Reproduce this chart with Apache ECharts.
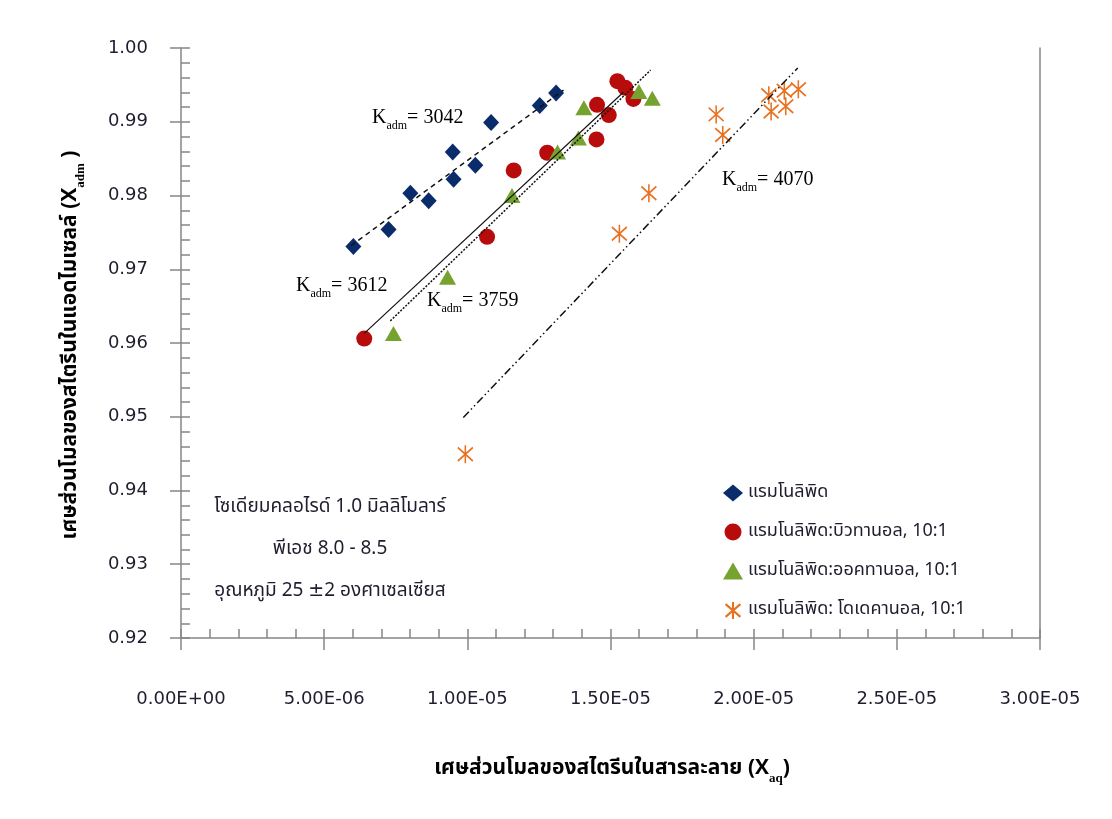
<!DOCTYPE html>
<html><head><meta charset="utf-8">
<script src="https://cdn.jsdelivr.net/npm/echarts@6/dist/echarts.min.js"></script>
<style>html,body{margin:0;padding:0;background:#fff}#c{width:1112px;height:819px}</style>
</head><body><div id="c"></div>
<script>
// ---- data ----
const seriesNames = ['แรมโนลิพิด', 'แรมโนลิพิด:บิวทานอล, 10:1', 'แรมโนลิพิด:ออคทานอล, 10:1', 'แรมโนลิพิด: โดเดคานอล, 10:1'];

const blueX = [6.02e-6, 7.25e-6, 8.01e-6, 8.65e-6, 9.49e-6, 9.52e-6, 10.28e-6, 10.83e-6, 12.53e-6, 13.10e-6];
const blueY = [0.9731, 0.9754, 0.9803, 0.9793, 0.9859, 0.9822, 0.9841, 0.9899, 0.9922, 0.9939];

const redX = [6.40e-6, 10.69e-6, 11.62e-6, 12.79e-6, 14.51e-6, 14.53e-6, 14.94e-6, 15.24e-6, 15.52e-6, 15.80e-6];
const redY = [0.9606, 0.9744, 0.9834, 0.9858, 0.9876, 0.9923, 0.9909, 0.9955, 0.9946, 0.9931];

const greenX = [7.42e-6, 9.31e-6, 11.56e-6, 13.15e-6, 13.88e-6, 14.07e-6, 15.99e-6, 16.46e-6];
const greenY = [0.9613, 0.9689, 0.9800, 0.9859, 0.9878, 0.9919, 0.9941, 0.9932];

const orangeX = [9.93e-6, 15.31e-6, 16.34e-6, 18.69e-6, 18.92e-6, 20.53e-6, 20.61e-6, 21.07e-6, 21.12e-6, 21.56e-6];
const orangeY = [0.9449, 0.9748, 0.9803, 0.9910, 0.9882, 0.9936, 0.9914, 0.9942, 0.9921, 0.9944];

// trend line end points
const blueFitX = [5.94e-6, 13.36e-6];   const blueFitY = [0.9732, 0.9943];
const redFitX = [6.40e-6, 15.45e-6];    const redFitY = [0.9613, 0.9940];
const greenFitX = [7.31e-6, 16.40e-6];  const greenFitY = [0.9630, 0.9970];
const orangeFitX = [9.86e-6, 21.54e-6]; const orangeFitY = [0.9499, 0.9973];

const kValues = ['3042', '3612', '3759', '4070'];
const noteLines = ['โซเดียมคลอไรด์ 1.0 มิลลิโมลาร์', 'พีเอช 8.0 - 8.5', 'อุณหภูมิ 25 ±2 องศาเซลเซียส'];
const xTitle = 'เศษส่วนโมลของสไตรีนในสารละลาย';
const yTitle = 'เศษส่วนโมลของสไตรีนในแอดไมเซลล์';

// ---- helpers ----
const zip = (xs, ys) => xs.map((x, i) => [x, ys[i]]);
function sci(v) {
  if (Math.abs(v) < 1e-15) return '0.00E+00';
  let e = Math.floor(Math.log10(Math.abs(v)) + 1e-9);
  let m = v / Math.pow(10, e);
  if (Math.abs(m) >= 9.995) { m /= 10; e += 1; }
  const sign = e < 0 ? '-' : '+';
  const ae = Math.abs(e);
  return m.toFixed(2) + 'E' + sign + (ae < 10 ? '0' : '') + ae;
}

const AX = '#868686';
const TXT = '#1e1e2e';
const thaiFont = '"Noto Sans Thai", "Tahoma", "DejaVu Sans", "Noto Sans", sans-serif';
const labelFont = '"DejaVu Sans", Verdana, sans-serif';
const serif = '"Liberation Serif", "Times New Roman", serif';
const starPath = 'path://M0,2L14,14M14,2L0,14M7,0L7,16';

const chart = echarts.init(document.getElementById('c'));

const gridPos = { left: 181, right: 72, top: 48, bottom: 181 };

function kRich() {
  return {
    k: { fontFamily: serif, fontSize: 20, lineHeight: 28, color: TXT },
    s: { fontFamily: serif, fontSize: 12, lineHeight: 12, verticalAlign: 'bottom', color: TXT },
    n: { fontFamily: serif, fontSize: 20, lineHeight: 28, color: TXT }
  };
}
function kText(val) { return '{k|K}{s|adm}{n|= ' + val + '}'; }

const option = {
  backgroundColor: '#fff',
  animation: false,
  grid: [
    Object.assign({}, gridPos),
    Object.assign({}, gridPos)
  ],
  xAxis: [
    {
      type: 'value', gridIndex: 0, min: 0, max: 3e-5, interval: 5e-6,
      axisLine: { show: true, lineStyle: { color: AX, width: 1.5 } },
      axisTick: { show: true, inside: false, length: 12, lineStyle: { color: AX, width: 1.5 } },
      axisLabel: { formatter: sci, fontFamily: labelFont, fontSize: 18, color: TXT, margin: 52 },
      splitLine: { show: false }
    },
    {
      type: 'value', gridIndex: 1, min: 0, max: 3e-5, interval: 5e-6,
      axisLine: { show: false },
      axisTick: { show: true, inside: true, length: 9, lineStyle: { color: AX, width: 1.5 } },
      minorTick: { show: true, splitNumber: 5, length: 9, lineStyle: { color: AX, width: 1.5 } },
      axisLabel: { show: false },
      splitLine: { show: false }
    }
  ],
  yAxis: [
    {
      type: 'value', gridIndex: 0, min: 0.92, max: 1.0, interval: 0.01, position: 'left',
      axisLine: { show: true, lineStyle: { color: AX, width: 1.5 } },
      axisTick: { show: true, inside: false, length: 11, lineStyle: { color: AX, width: 1.5 } },
      axisLabel: { formatter: v => v.toFixed(2), fontFamily: labelFont, fontSize: 18, color: TXT, margin: 33 },
      splitLine: { show: false }
    },
    {
      type: 'value', gridIndex: 0, min: 0.92, max: 1.0, interval: 0.01, position: 'right',
      axisLine: { show: true, lineStyle: { color: AX, width: 1.5 } },
      axisTick: { show: false }, axisLabel: { show: false }, splitLine: { show: false }
    },
    {
      type: 'value', gridIndex: 1, min: 0.92, max: 1.0, interval: 0.01, position: 'left',
      axisLine: { show: false },
      axisTick: { show: true, inside: true, length: 9, lineStyle: { color: AX, width: 1.5 } },
      minorTick: { show: true, splitNumber: 5, length: 9, lineStyle: { color: AX, width: 1.5 } },
      axisLabel: { show: false },
      splitLine: { show: false }
    }
  ],
  legend: {
    orient: 'vertical', left: 718, top: 479, itemGap: 21, itemWidth: 20, itemHeight: 17,
    data: seriesNames,
    textStyle: { fontFamily: thaiFont, fontSize: 18, color: TXT }
  },
  series: [
    { name: seriesNames[0], type: 'scatter', data: zip(blueX, blueY), symbol: 'diamond', symbolSize: [16, 17],
      itemStyle: { color: '#0b2c6b', opacity: 1 }, z: 3 },
    { name: seriesNames[1], type: 'scatter', data: zip(redX, redY), symbol: 'circle', symbolSize: 16,
      itemStyle: { color: '#b80c0c', opacity: 1 }, z: 3 },
    { name: seriesNames[2], type: 'scatter', data: zip(greenX, greenY), symbol: 'triangle', symbolSize: [17, 15],
      itemStyle: { color: '#76a22f', opacity: 1 }, z: 3 },
    { name: seriesNames[3], type: 'scatter', data: zip(orangeX, orangeY), symbol: starPath, symbolSize: [15, 18],
      itemStyle: { color: 'rgba(0,0,0,0)', borderColor: '#e8711f', borderWidth: 1.7, opacity: 1 }, z: 3 },
    { type: 'line', data: zip(blueFitX, blueFitY), symbol: 'none', z: 5, silent: true,
      lineStyle: { color: '#111', width: 1.5, type: [5, 4] } },
    { type: 'line', data: zip(redFitX, redFitY), symbol: 'none', z: 5, silent: true,
      lineStyle: { color: '#111', width: 1.2, type: 'solid' } },
    { type: 'line', data: zip(greenFitX, greenFitY), symbol: 'none', z: 5, silent: true,
      lineStyle: { color: '#111', width: 1.5, type: [2, 1.5] } },
    { type: 'line', data: zip(orangeFitX, orangeFitY), symbol: 'none', z: 5, silent: true,
      lineStyle: { color: '#111', width: 1.5, type: [8, 3, 1.5, 3, 1.5, 3] } }
  ],
  graphic: [
    { type: 'text', left: 372, top: 108, style: { text: kText(kValues[0]), rich: kRich() } },
    { type: 'text', left: 296, top: 276, style: { text: kText(kValues[1]), rich: kRich() } },
    { type: 'text', left: 427, top: 291, style: { text: kText(kValues[2]), rich: kRich() } },
    { type: 'text', left: 722, top: 170, style: { text: kText(kValues[3]), rich: kRich() } },
    { type: 'text', x: 330, y: 508, style: { text: noteLines[0], fontFamily: thaiFont, fontSize: 19, fill: TXT, align: 'center', verticalAlign: 'middle' } },
    { type: 'text', x: 330, y: 550, style: { text: noteLines[1], fontFamily: thaiFont, fontSize: 19, fill: TXT, align: 'center', verticalAlign: 'middle' } },
    { type: 'text', x: 330, y: 592, style: { text: noteLines[2], fontFamily: thaiFont, fontSize: 19, fill: TXT, align: 'center', verticalAlign: 'middle' } },
    { type: 'text', x: 612, y: 770, style: {
        text: '{t|' + xTitle + ' (X}{s|aq}{t|)}', align: 'center', verticalAlign: 'middle',
        rich: {
          t: { fontFamily: thaiFont, fontSize: 21, fontWeight: 'bold', lineHeight: 30, color: TXT },
          s: { fontFamily: serif, fontSize: 13, fontWeight: 'bold', lineHeight: 13, verticalAlign: 'bottom', color: TXT }
        } } },
    { type: 'text', x: 72, y: 345, rotation: Math.PI / 2, style: {
        text: '{t|' + yTitle + ' (X}{s|adm}{t| )}', align: 'center', verticalAlign: 'middle',
        rich: {
          t: { fontFamily: thaiFont, fontSize: 21, fontWeight: 'bold', lineHeight: 30, color: TXT },
          s: { fontFamily: serif, fontSize: 13, fontWeight: 'bold', lineHeight: 13, verticalAlign: 'bottom', color: TXT }
        } } }
  ]
};
chart.setOption(option);
</script>
</body></html>
